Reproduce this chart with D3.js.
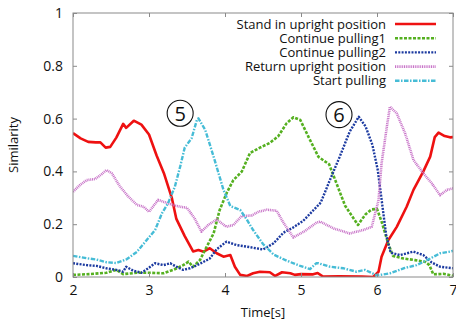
<!DOCTYPE html>
<html>
<head>
<meta charset="utf-8">
<script src="https://cdn.jsdelivr.net/npm/d3@7"></script>
<style>
  html, body { margin: 0; padding: 0; background: #fff; }
  svg { display: block; font-family: "Open Sans", "Noto Sans", sans-serif; }
</style>
</head>
<body>
<svg id="chart" width="456" height="324"></svg>
<script>
// Similarity of each motion template over time
const seriesNames = [
  "Stand in upright position",
  "Continue pulling1",
  "Continue pulling2",
  "Return upright position",
  "Start pulling"
];

const standUpright = [
  [2.0,0.545],[2.1,0.525],[2.2,0.512],[2.3,0.51],[2.36,0.51],[2.43,0.49],[2.49,0.493],
  [2.57,0.528],[2.66,0.58],[2.7,0.565],[2.8,0.592],[2.9,0.577],[3.0,0.54],[3.1,0.46],
  [3.2,0.39],[3.3,0.30],[3.36,0.22],[3.47,0.155],[3.58,0.097],[3.65,0.102],[3.72,0.096],
  [3.8,0.109],[3.89,0.09],[3.98,0.077],[4.07,0.083],[4.13,0.039],[4.2,0.008],[4.29,0.004],
  [4.37,0.014],[4.46,0.02],[4.59,0.018],[4.66,0.004],[4.75,0.018],[4.86,0.014],[4.92,0.008],
  [5.0,0.011],[5.16,0.01],[5.22,0.015],[5.29,0.002],[5.5,0.003],[5.8,0.002],[5.95,0.0],
  [6.02,0.02],[6.06,0.077],[6.15,0.14],[6.26,0.19],[6.39,0.266],[6.48,0.33],[6.61,0.40],
  [6.70,0.456],[6.76,0.53],[6.81,0.547],[6.89,0.534],[6.96,0.529],[7.0,0.53]
];

const continuePulling1 = [
  [2.0,0.008],[2.22,0.011],[2.44,0.016],[2.57,0.027],[2.66,0.011],[2.84,0.016],[3.01,0.016],
  [3.19,0.014],[3.32,0.027],[3.45,0.045],[3.52,0.058],[3.58,0.039],[3.67,0.064],[3.76,0.115],
  [3.85,0.165],[3.93,0.254],[4.02,0.317],[4.11,0.367],[4.22,0.399],[4.33,0.47],[4.46,0.49],
  [4.59,0.508],[4.7,0.533],[4.81,0.582],[4.9,0.605],[4.99,0.595],[5.1,0.53],[5.23,0.455],
  [5.37,0.427],[5.46,0.36],[5.58,0.27],[5.75,0.197],[5.85,0.238],[5.93,0.256],[6.0,0.258],
  [6.06,0.21],[6.15,0.125],[6.21,0.08],[6.35,0.07],[6.5,0.064],[6.63,0.058],[6.69,0.045],
  [6.74,0.01],[6.87,0.012],[7.0,0.005]
];

const continuePulling2 = [
  [2.0,0.052],[2.18,0.045],[2.31,0.042],[2.44,0.033],[2.57,0.027],[2.66,0.02],[2.7,0.039],
  [2.79,0.024],[2.9,0.016],[2.99,0.033],[3.08,0.052],[3.19,0.045],[3.28,0.052],[3.36,0.039],
  [3.45,0.027],[3.54,0.033],[3.67,0.05],[3.8,0.07],[3.89,0.105],[4.02,0.134],[4.15,0.121],
  [4.33,0.113],[4.5,0.104],[4.64,0.128],[4.77,0.168],[4.9,0.188],[5.03,0.213],[5.17,0.255],
  [5.26,0.282],[5.38,0.367],[5.51,0.456],[5.64,0.55],[5.76,0.607],[5.85,0.57],[5.94,0.5],
  [6.01,0.405],[6.07,0.272],[6.12,0.16],[6.18,0.092],[6.3,0.083],[6.48,0.096],[6.61,0.083],
  [6.72,0.055],[6.83,0.039],[7.0,0.033]
];

const returnUpright = [
  [2.0,0.323],[2.09,0.348],[2.18,0.367],[2.29,0.371],[2.38,0.39],[2.44,0.405],[2.51,0.393],
  [2.62,0.342],[2.73,0.304],[2.84,0.273],[2.93,0.266],[3.0,0.247],[3.12,0.292],[3.23,0.281],
  [3.36,0.269],[3.5,0.262],[3.6,0.222],[3.69,0.172],[3.78,0.197],[3.89,0.218],[4.02,0.19],
  [4.11,0.197],[4.22,0.231],[4.35,0.233],[4.44,0.247],[4.55,0.255],[4.68,0.251],[4.77,0.205],
  [4.9,0.15],[5.05,0.174],[5.2,0.205],[5.25,0.21],[5.43,0.184],[5.64,0.165],[5.82,0.178],
  [5.93,0.19],[6.02,0.29],[6.06,0.43],[6.13,0.57],[6.17,0.645],[6.26,0.62],[6.37,0.544],
  [6.48,0.443],[6.61,0.393],[6.72,0.355],[6.83,0.31],[6.92,0.33],[7.0,0.336]
];

const startPulling = [
  [2.0,0.08],[2.18,0.071],[2.31,0.066],[2.44,0.056],[2.57,0.053],[2.71,0.068],[2.84,0.095],
  [2.97,0.14],[3.08,0.178],[3.17,0.241],[3.25,0.279],[3.34,0.342],[3.41,0.418],[3.47,0.49],
  [3.56,0.525],[3.63,0.595],[3.65,0.601],[3.74,0.557],[3.85,0.456],[3.98,0.33],[4.07,0.269],
  [4.2,0.254],[4.29,0.216],[4.37,0.178],[4.5,0.125],[4.64,0.085],[4.81,0.062],[4.99,0.042],
  [5.12,0.03],[5.2,0.052],[5.23,0.052],[5.38,0.039],[5.56,0.033],[5.73,0.02],[5.84,0.027],
  [6.0,0.006],[6.17,0.014],[6.35,0.033],[6.52,0.045],[6.7,0.07],[6.83,0.09],[6.98,0.097],
  [7.0,0.1]
];

const xTicks = [2, 3, 4, 5, 6, 7];
const yTicks = [0, 0.2, 0.4, 0.6, 0.8, 1];
const markers = [
  { label: "5", t: 3.41, v: 0.62 },
  { label: "6", t: 5.5, v: 0.615 }
];

// Series styling
const styles = [
  { color: "#ee1111", width: 2.6, dash: null },
  { color: "#55b020", width: 2.6, dash: "3,1.5" },
  { color: "#1c3aa0", width: 2.4, dash: "2,1.3" },
  { color: "#c874c8", width: 2.6, dash: "1,0.8" },
  { color: "#46bcd6", width: 2.4, dash: "4.5,1.5,1.5,1.5" }
];
const seriesData = [standUpright, continuePulling1, continuePulling2, returnUpright, startPulling];

const svg = d3.select("#chart");
const margin = { left: 73, right: 3, top: 13, bottom: 47 };
const W = 456, H = 324;
const x = d3.scaleLinear().domain([2, 7]).range([margin.left, W - margin.right]);
const y = d3.scaleLinear().domain([0, 1]).range([H - margin.bottom, margin.top]);

const axisColor = "#8a8a8a";
const fontSize = 14;

// Lines (clipped to the plot area)
svg.append("clipPath").attr("id", "plotclip")
  .append("rect")
  .attr("x", x(2)).attr("y", y(1))
  .attr("width", x(7) - x(2)).attr("height", y(0) - y(1));

const line = d3.line().x(d => x(d[0])).y(d => y(d[1])).curve(d3.curveLinear);
const lines = svg.append("g").attr("clip-path", "url(#plotclip)");
seriesData.forEach((data, i) => {
  const s = styles[i];
  lines.append("path")
    .attr("d", line(data))
    .attr("fill", "none")
    .attr("stroke", s.color)
    .attr("stroke-width", s.width)
    .attr("stroke-linejoin", "round")
    .attr("stroke-dasharray", s.dash);
});

// Axes with inward ticks on all four sides
const tickLen = 4;
const axes = [
  d3.axisBottom(x).tickValues(xTicks).tickSizeInner(-tickLen).tickSizeOuter(0).tickPadding(8).tickFormat(d3.format("d")),
  d3.axisLeft(y).tickValues(yTicks).tickSizeInner(-tickLen).tickSizeOuter(0).tickPadding(10).tickFormat(d => d === 0 || d === 1 ? String(d) : d3.format(".1f")(d)),
  d3.axisTop(x).tickValues(xTicks).tickSizeInner(-tickLen).tickSizeOuter(0).tickFormat(""),
  d3.axisRight(y).tickValues(yTicks).tickSizeInner(-tickLen).tickSizeOuter(0).tickFormat("")
];
const translations = [
  `translate(0,${y(0)})`, `translate(${x(2)},0)`, `translate(0,${y(1)})`, `translate(${x(7)},0)`
];
axes.forEach((a, i) => {
  const g = svg.append("g").attr("transform", translations[i]).call(a);
  g.select(".domain").remove();
  g.selectAll(".tick line").attr("stroke", axisColor);
  g.selectAll(".tick text").attr("fill", "#111").style("font-size", fontSize + "px")
    .style("font-family", "'Open Sans', sans-serif");
});

svg.append("rect")
  .attr("x", x(2)).attr("y", y(1))
  .attr("width", x(7) - x(2)).attr("height", y(0) - y(1))
  .attr("fill", "none").attr("stroke", axisColor).attr("stroke-width", 1);

// Axis titles
svg.append("text")
  .attr("x", (x(2) + x(7)) / 2).attr("y", 317)
  .attr("text-anchor", "middle").attr("fill", "#111")
  .style("font-size", "13px")
  .text("Time[s]");
svg.append("text")
  .attr("transform", `translate(18,${(y(0) + y(1)) / 2}) rotate(-90)`)
  .attr("text-anchor", "middle").attr("fill", "#111")
  .style("font-size", "13px")
  .text("Similarity");

// Legend
const legend = svg.append("g");
seriesNames.forEach((name, i) => {
  const yy = 24 + i * 14.2;
  legend.append("text")
    .attr("x", 386).attr("y", yy).attr("dy", "0.35em")
    .attr("text-anchor", "end").attr("fill", "#111")
    .style("font-size", "13px")
    .text(name);
  const s = styles[i];
  legend.append("line")
    .attr("x1", 395).attr("x2", 436).attr("y1", yy).attr("y2", yy)
    .attr("stroke", s.color).attr("stroke-width", s.width)
    .attr("stroke-dasharray", s.dash);
});

// Circled phase markers
markers.forEach(m => {
  const g = svg.append("g").attr("transform", `translate(${x(m.t)},${y(m.v)})`);
  g.append("circle").attr("r", 13).attr("fill", "#fff").attr("stroke", "#111").attr("stroke-width", 1.1);
  g.append("text").attr("text-anchor", "middle").attr("dy", "0.36em")
    .attr("fill", "#111").style("font-size", "20px").text(m.label);
});
</script>
</body>
</html>
